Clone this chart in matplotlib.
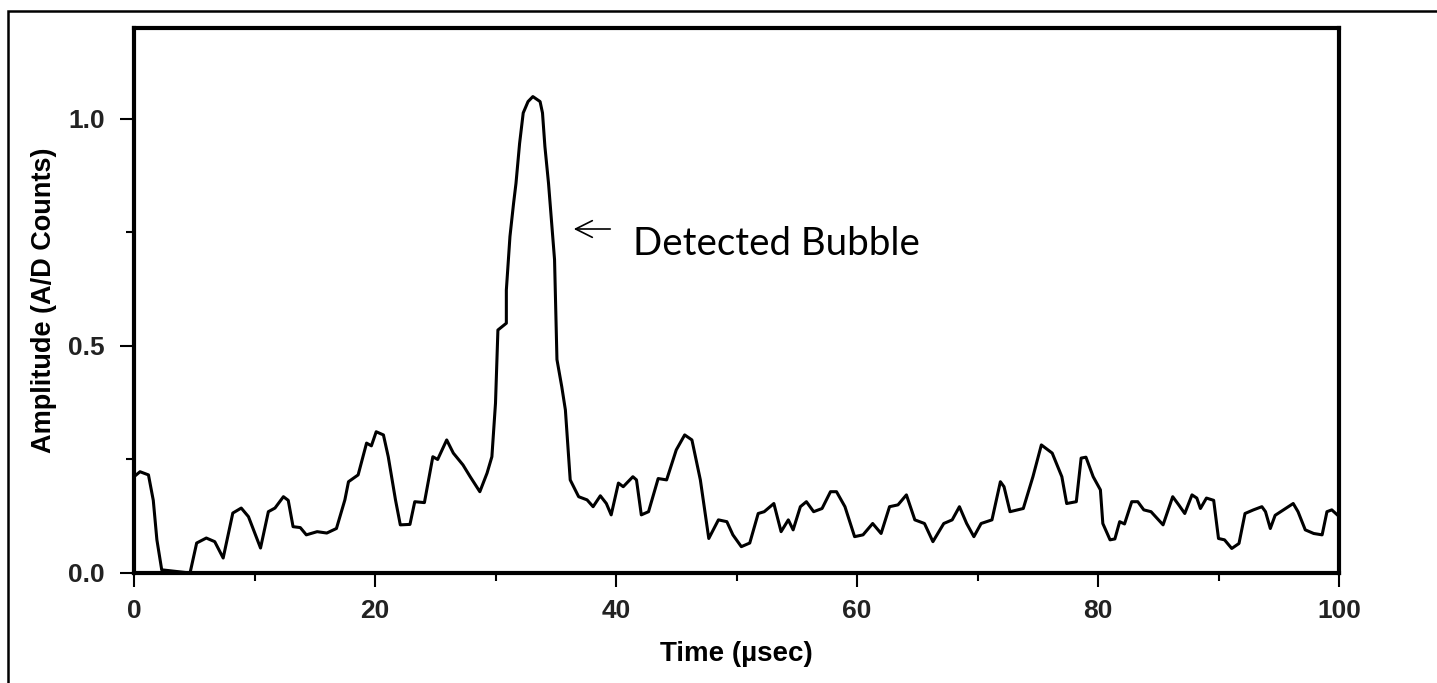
import numpy as np
import matplotlib.pyplot as plt
from matplotlib.patches import Rectangle
from matplotlib.ticker import MultipleLocator, FormatStrFormatter

# trace (time in usec, amplitude)
time_us = [0.0, 0.5, 1.2, 1.6, 1.9, 2.3, 4.65, 5.2, 6.0, 6.7, 7.4, 8.2, 8.9, 9.5, 10.5,
           11.15, 11.7, 12.4, 12.8, 13.2, 13.8, 14.3, 15.2, 16.0, 16.8, 17.5, 17.8, 18.6,
           19.0, 19.3, 19.7, 20.1, 20.7, 21.1, 21.7, 22.1, 22.9, 23.3, 24.1, 24.8, 25.2,
           25.95, 26.5, 27.3, 27.9, 28.7, 29.3, 29.7, 30.0, 30.2, 30.9, 30.9, 31.2, 31.5,
           31.7, 32.0, 32.3, 32.7, 33.1, 33.7, 33.9, 34.1, 34.4, 34.7, 34.9, 35.0, 35.1,
           35.5, 35.8, 36.2, 36.9, 37.6, 38.1, 38.7, 39.2, 39.6, 40.2, 40.6, 41.4, 41.7,
           42.1, 42.7, 43.5, 44.2, 45.0, 45.7, 46.3, 47.0, 47.7, 48.5, 49.2, 49.7, 50.4,
           51.1, 51.8, 52.3, 53.1, 53.7, 54.3, 54.7, 55.3, 55.8, 56.4, 57.1, 57.8, 58.3,
           59.0, 59.8, 60.5, 61.3, 62.0, 62.7, 63.4, 64.1, 64.8, 65.6, 66.3, 67.2, 67.9,
           68.5, 69.1, 69.7, 70.3, 71.2, 71.9, 72.2, 72.7, 73.8, 74.6, 75.3, 76.2, 77.0,
           77.4, 78.2, 78.6, 79.0, 79.6, 80.2, 80.4, 81.0, 81.4, 81.8, 82.2, 82.8, 83.3,
           83.8, 84.4, 85.4, 86.2, 86.7, 87.2, 87.8, 88.2, 88.5, 89.0, 89.6, 90.0, 90.5,
           91.1, 91.7, 92.2, 92.9, 93.6, 93.9, 94.3, 94.7, 95.4, 96.2, 96.6, 97.2, 97.9,
           98.6, 99.0, 99.4, 99.9]
amplitude = [0.212, 0.223, 0.216, 0.160, 0.073, 0.007, 0.0, 0.066, 0.077, 0.069, 0.033,
             0.132, 0.143, 0.124, 0.055, 0.135, 0.143, 0.168, 0.160, 0.102, 0.100, 0.084,
             0.091, 0.088, 0.098, 0.161, 0.201, 0.216, 0.256, 0.286, 0.280, 0.311, 0.304,
             0.256, 0.161, 0.106, 0.107, 0.157, 0.155, 0.256, 0.250, 0.293, 0.264, 0.238,
             0.212, 0.179, 0.220, 0.256, 0.374, 0.535, 0.550, 0.623, 0.741, 0.814, 0.858,
             0.946, 1.013, 1.038, 1.049, 1.038, 1.013, 0.939, 0.858, 0.756, 0.690, 0.579,
             0.470, 0.410, 0.359, 0.205, 0.168, 0.161, 0.146, 0.170, 0.153, 0.128, 0.198,
             0.190, 0.212, 0.205, 0.128, 0.135, 0.208, 0.205, 0.271, 0.304, 0.293, 0.205,
             0.076, 0.117, 0.113, 0.084, 0.058, 0.066, 0.131, 0.135, 0.153, 0.091, 0.117,
             0.095, 0.146, 0.157, 0.135, 0.142, 0.179, 0.179, 0.146, 0.080, 0.084, 0.109,
             0.087, 0.146, 0.150, 0.172, 0.117, 0.109, 0.069, 0.109, 0.117, 0.146, 0.109,
             0.080, 0.109, 0.117, 0.201, 0.190, 0.135, 0.142, 0.212, 0.282, 0.264, 0.212,
             0.153, 0.157, 0.253, 0.255, 0.212, 0.183, 0.109, 0.073, 0.075, 0.113, 0.108,
             0.157, 0.157, 0.139, 0.135, 0.106, 0.168, 0.150, 0.131, 0.172, 0.165, 0.142,
             0.165, 0.160, 0.076, 0.073, 0.054, 0.065, 0.131, 0.139, 0.146, 0.135, 0.098,
             0.127, 0.139, 0.153, 0.135, 0.095, 0.087, 0.084, 0.135, 0.139, 0.127]

x_ticks = [0, 20, 40, 60, 80, 100]
y_ticks = [0.0, 0.5, 1.0]

plt.rcParams['font.family'] = ['Liberation Sans', 'DejaVu Sans']

fig = plt.figure(figsize=(14.37, 6.83), dpi=100)
ax = fig.add_axes([134/1437, 1 - 573/683, 1205/1437, 545/683])

# outer frame of the image
fig.add_artist(Rectangle((8/1437, -0.1), 1.2, 0.1 + 1 - 11/683, transform=fig.transFigure,
                         fill=False, edgecolor='black', linewidth=1.8))

ax.plot(time_us, amplitude, color='black', linewidth=2.2)

ax.set_xlim(0, 100)
ax.set_ylim(0, 1.2)
ax.set_xticks(x_ticks)
ax.set_yticks(y_ticks)
ax.xaxis.set_minor_locator(MultipleLocator(10))
ax.yaxis.set_minor_locator(MultipleLocator(0.25))
ax.yaxis.set_major_formatter(FormatStrFormatter('%.1f'))
for s in ax.spines.values():
    s.set_linewidth(3)
ax.tick_params(which='major', length=10, width=1.5, labelsize=19)
ax.tick_params(axis='x', which='major', pad=9)
ax.tick_params(axis='y', which='major', pad=11)
ax.tick_params(which='minor', length=6, width=1.5)
for lbl in ax.get_xticklabels() + ax.get_yticklabels():
    lbl.set_fontweight('bold')
    lbl.set_color('#222222')

ax.set_xlabel('Time (\u00b5sec)', fontsize=20, fontweight='bold', labelpad=13)
ax.set_ylabel('Amplitude (A/D Counts)', fontsize=19.5, fontweight='bold', labelpad=8)

ax.annotate('', xy=(571/1437, 1 - 229/683), xytext=(613/1437, 1 - 229/683),
            xycoords='figure fraction', textcoords='figure fraction',
            arrowprops=dict(arrowstyle='->', color='black', lw=1.2, mutation_scale=30))
fig.text(633/1437, 1 - 244/683, 'Detected Bubble', fontsize=27.7, family=['Lato', 'DejaVu Sans'],
         va='center', ha='left')

fig.savefig('out.png', dpi=100)
